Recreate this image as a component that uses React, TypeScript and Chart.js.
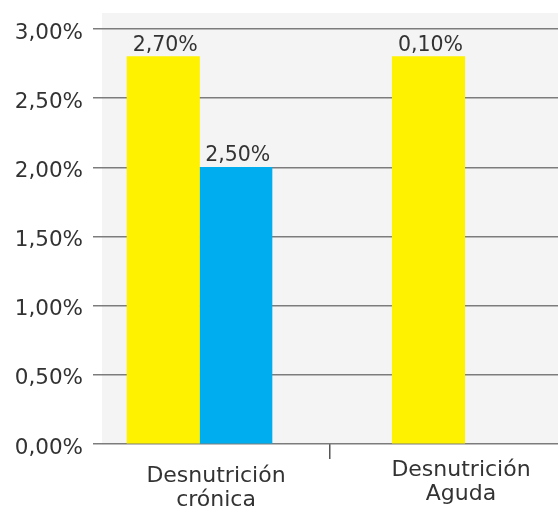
import React, { useEffect, useRef } from "react";
import { Chart, registerables } from "chart.js";

Chart.register(...registerables);

const categories: string[][] = [
  ["Desnutrición", "crónica"],
  ["Desnutrición", "Aguda"],
];
const yellowValues: (number | null)[] = [2.8, 2.8];
const blueValues: (number | null)[] = [2.0, null];
const yellowLabels: string[] = ["2,70%", "0,10%"];
const blueLabels: string[] = ["2,50%", ""];
const yTickValues: number[] = [0, 0.5, 1, 1.5, 2, 2.5, 3];

const FONT = "'DejaVu Sans', sans-serif";
const TEXT = "#333333";
const GRID = "#7c7c7c";

const bgPlugin = {
  id: "plotBg",
  beforeDraw(chart: any) {
    const { ctx, chartArea } = chart;
    ctx.save();
    ctx.fillStyle = "#f4f4f4";
    ctx.fillRect(chartArea.left, chartArea.top, chartArea.right - chartArea.left, chartArea.bottom - chartArea.top);
    ctx.restore();
  },
};

const labelPlugin = {
  id: "barLabels",
  afterDatasetsDraw(chart: any) {
    const { ctx } = chart;
    ctx.save();
    ctx.font = `20.5px ${FONT}`;
    ctx.fillStyle = TEXT;
    ctx.textAlign = "center";
    ctx.textBaseline = "alphabetic";
    chart.data.datasets.forEach((ds: any, di: number) => {
      const meta = chart.getDatasetMeta(di);
      meta.data.forEach((el: any, i: number) => {
        const txt = ds.valueLabels?.[i];
        if (!txt || ds.data[i]?.y == null) return;
        ctx.fillText(txt, el.x + 2, el.y - 6);
      });
    });
    ctx.restore();
  },
};

export default function App() {
  const ref = useRef<HTMLCanvasElement | null>(null);

  useEffect(() => {
    if (!ref.current) return;
    const toPoints = (vals: (number | null)[]) => vals.map((v, i) => ({ x: i, y: v }));
    const chart = new Chart(ref.current, {
      type: "bar",
      data: {
        labels: categories as any,
        datasets: [
          {
            data: toPoints(yellowValues) as any,
            backgroundColor: "#fff200",
            xAxisID: "xb",
            valueLabels: yellowLabels,
          } as any,
          {
            data: toPoints(blueValues) as any,
            backgroundColor: "#00aeef",
            xAxisID: "xb",
            valueLabels: blueLabels,
          } as any,
        ],
      },
      options: {
        animation: false,
        responsive: true,
        maintainAspectRatio: false,
        skipNull: true,
        barThickness: 72.5,
        layout: { padding: { top: 13, left: 0, right: 0, bottom: 0 } },
        plugins: { legend: { display: false }, tooltip: { enabled: false } },
        scales: {
          xb: {
            type: "linear",
            display: false,
            offset: false,
            grid: { offset: false },
            min: -0.4258,
            max: 1.5655,
          },
          x3: {
            type: "category",
            position: "bottom",
            weight: 0,
            labels: ["", categories[1]] as any,
            offset: true,
            grid: { display: false, drawTicks: false },
            border: { display: false },
            ticks: {
              autoSkip: false,
              maxRotation: 0,
              labelOffset: 17,
              padding: 14,
              color: TEXT,
              font: { family: FONT, size: 22, lineHeight: "24px" },
            },
            afterFit: (s: any) => {
              s.height = 0;
              s.paddingLeft = 0;
              s.paddingRight = 0;
              s._computeLabelArea = () => undefined;
            },
          },
          x: {
            type: "category",
            position: "bottom",
            weight: 1,
            labels: [categories[0], ""] as any,
            offset: true,
            grid: {
              drawOnChartArea: false,
              tickLength: 15,
              lineWidth: 1.5,
              offset: true,
              color: (c: any) => (c.index === 1 ? "#555555" : "rgba(0,0,0,0)"),
            },
            border: { display: false },
            ticks: {
              autoSkip: false,
              maxRotation: 0,
              padding: 5,
              color: TEXT,
              font: { family: FONT, size: 22, lineHeight: "24px" },
            },
            afterFit: (s: any) => {
              s.height = 70;
              s.paddingLeft = 0;
              s.paddingRight = 0;
            },
          },
          y: {
            type: "linear",
            min: 0,
            max: 3.1155,
            border: { display: false },
            grid: { color: GRID, lineWidth: 1.5, tickLength: 9 },
            afterBuildTicks: (s: any) => {
              s.ticks = yTickValues.map((v) => ({ value: v }));
            },
            ticks: {
              padding: 10,
              labelOffset: 4,
              color: TEXT,
              font: { family: FONT, size: 21.5 },
              callback: (v: any) => Number(v).toFixed(2).replace(".", ",") + "%",
            },
            afterFit: (s: any) => {
              s.width = 102;
              s.paddingTop = 0;
              s.paddingBottom = 0;
            },
          },
        },
      } as any,
      plugins: [bgPlugin, labelPlugin],
    });
    return () => chart.destroy();
  }, []);

  return (
    <div style={{ position: "absolute", left: 0, top: 0, width: 558, height: 514 }}>
      <canvas ref={ref} />
    </div>
  );
}
